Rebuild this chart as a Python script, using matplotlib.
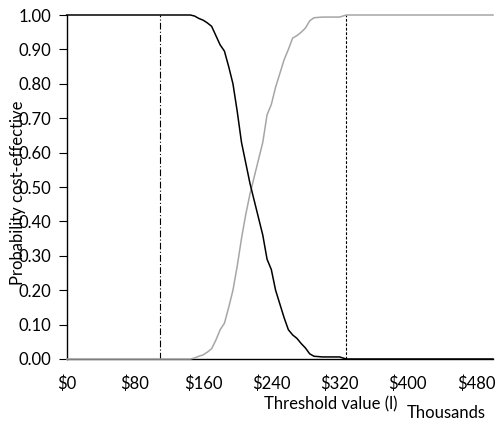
import matplotlib
matplotlib.use("Agg")
import matplotlib.pyplot as plt
from matplotlib.ticker import FuncFormatter

plt.rcParams['font.family'] = ['Lato', 'DejaVu Sans']

# threshold values ($ thousands)
thr = [0, 145, 150, 155, 160, 165, 170, 175, 180, 185, 190, 195, 200, 205, 210,
       215, 220, 225, 230, 235, 240, 245, 250, 255, 260, 265, 270, 275, 280,
       285, 290, 300, 320, 328, 500]
# probability cost-effective, two strategies
p_black = [1.0, 1.0, 0.997, 0.99, 0.985, 0.977, 0.967, 0.94, 0.913, 0.895, 0.85,
           0.80, 0.72, 0.63, 0.57, 0.51, 0.46, 0.41, 0.36, 0.29, 0.26, 0.20, 0.16,
           0.12, 0.085, 0.07, 0.06, 0.045, 0.032, 0.015, 0.008, 0.006, 0.006, 0.0, 0.0]
p_gray = [0.0, 0.0, 0.003, 0.008, 0.012, 0.02, 0.03, 0.055, 0.085, 0.104, 0.15,
          0.20, 0.27, 0.35, 0.42, 0.48, 0.53, 0.58, 0.63, 0.71, 0.74, 0.79, 0.83,
          0.87, 0.90, 0.933, 0.94, 0.95, 0.962, 0.983, 0.992, 0.994, 0.994, 1.0, 1.0]
# reference thresholds
vline_dashdot = 110
vline_dashed = 328

fig = plt.figure(figsize=(4.95, 4.25), dpi=100)
ax = fig.add_axes([0.1347, 0.1553, 0.8613, 0.8094])

ax.plot(thr, p_gray, color="#a6a6a6", lw=1.1, clip_on=False, zorder=3)
ax.plot(thr, p_black, color="black", lw=1.1, clip_on=False, zorder=4)
ax.axvline(vline_dashdot, color="black", lw=0.8, ls=(0, (6, 2, 1, 2)), zorder=2)
ax.axvline(vline_dashed, color="black", lw=0.8, ls=(0, (2.5, 1.5)), zorder=2)

ax.set_xlim(0, 500)
ax.set_ylim(0, 1)
ax.set_xticks([0, 80, 160, 240, 320, 400, 480])
ax.set_yticks([i / 10 for i in range(11)])
ax.xaxis.set_major_formatter(FuncFormatter(lambda v, p: "${:.0f}".format(v)))
ax.yaxis.set_major_formatter(FuncFormatter(lambda v, p: "{:.2f}".format(v)))
ax.tick_params(axis="x", length=0, pad=12, labelsize=12)
ax.tick_params(axis="y", length=6, width=0.8, pad=5, labelsize=12)

for s in ["top", "right"]:
    ax.spines[s].set_visible(False)
ax.spines["left"].set_linewidth(1.0)
ax.spines["bottom"].set_linewidth(1.0)

fig.text(18 / 495, 1 - 193 / 425, "Probability cost-effective", rotation=90,
         ha="center", va="center", fontsize=12)
fig.text(331 / 495, 1 - 404 / 425, "Threshold value (l)", ha="center",
         va="center", fontsize=12)
fig.text(446 / 495, 1 - 413 / 425, "Thousands", ha="center", va="center",
         fontsize=12)

fig.savefig("out.png", dpi=100)
